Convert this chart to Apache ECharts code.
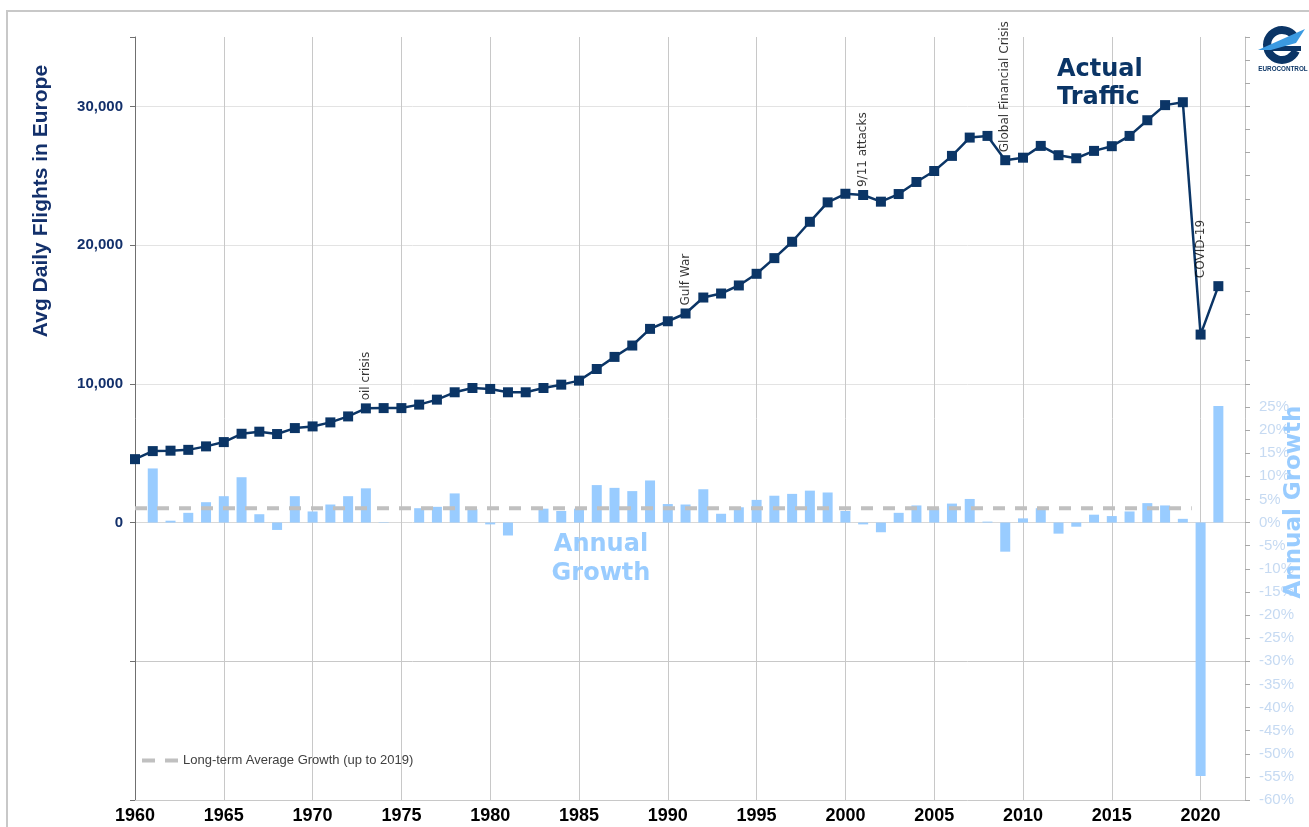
<!DOCTYPE html>
<html>
<head>
<meta charset="utf-8">
<script src="https://cdn.jsdelivr.net/npm/echarts@6/dist/echarts.min.js"></script>
<style>
  html, body { margin: 0; padding: 0; background: #fff; }
  #main { width: 1309px; height: 827px; }
</style>
</head>
<body>
<div id="main"></div>
<script>
// years shown on the x axis
var years = [1960, 1961, 1962, 1963, 1964, 1965, 1966, 1967, 1968, 1969,
  1970, 1971, 1972, 1973, 1974, 1975, 1976, 1977, 1978, 1979,
  1980, 1981, 1982, 1983, 1984, 1985, 1986, 1987, 1988, 1989,
  1990, 1991, 1992, 1993, 1994, 1995, 1996, 1997, 1998, 1999,
  2000, 2001, 2002, 2003, 2004, 2005, 2006, 2007, 2008, 2009,
  2010, 2011, 2012, 2013, 2014, 2015, 2016, 2017, 2018, 2019,
  2020, 2021];

// average daily flights
var traffic = [4570, 5150, 5180, 5240, 5490, 5800, 6400, 6550, 6380, 6810,
  6930, 7220, 7650, 8230, 8250, 8250, 8500, 8860, 9390, 9700,
  9630, 9390, 9390, 9700, 9940, 10230, 11070, 11940, 12760, 13960,
  14510, 15070, 16220, 16510, 17090, 17930, 19060, 20240, 21680, 23080,
  23700, 23610, 23130, 23680, 24550, 25340, 26430, 27750, 27870, 26120,
  26300, 27150, 26480, 26260, 26790, 27130, 27870, 29000, 30090, 30300,
  13550, 17040];

// annual growth in % (no value for the first year)
var growth = [null, 11.7, 0.4, 2.1, 4.4, 5.7, 9.8, 1.8, -1.6, 5.7,
  2.4, 3.9, 5.7, 7.4, 0.1, 0, 3.1, 3.4, 6.3, 2.9,
  -0.4, -2.8, 0, 3.0, 2.5, 3.0, 8.1, 7.5, 6.8, 9.1,
  4.0, 3.9, 7.2, 1.9, 3.3, 4.9, 5.8, 6.2, 6.9, 6.5,
  2.5, -0.4, -2.1, 2.1, 3.7, 3.1, 4.1, 5.1, 0.2, -6.3,
  0.9, 3.1, -2.4, -0.9, 1.7, 1.4, 2.4, 4.2, 3.7, 0.8,
  -54.8, 25.2];

var longTermAvg = 3.1;
var longTermSpan = [1960, 2019.5];
var avgName = 'Long-term Average Growth (up to 2019)';

// [text, year, year whose traffic sets the height]
var events = [
  ['oil crisis', 1973, 1973],
  ['Gulf War', 1991, 1991],
  ['9/11 attacks', 2001, 2001],
  ['Global Financial Crisis', 2009, 2009],
  ['COVID-19', 2020, 2021]
];

var navy = '#0b3566';
var lightBlue = '#99ccff';
var dashGrey = '#c0c0c0';
var sans = 'Liberation Sans, Arial, sans-serif';
var deja = 'DejaVu Sans, sans-serif';

var chart = echarts.init(document.getElementById('main'));

chart.setOption({
  animation: false,
  backgroundColor: '#ffffff',
  grid: { left: 135, right: 64, top: 37, bottom: 27 },
  legend: {
    left: 137,
    top: 749,
    itemWidth: 36,
    itemHeight: 4,
    itemGap: 5,
    data: [{
      name: avgName,
      icon: 'path://M0,0H13V4H0Z M23,0H36V4H23Z',
      itemStyle: { color: dashGrey }
    }],
    textStyle: { fontFamily: sans, fontSize: 13, color: '#404040' }
  },
  xAxis: {
    type: 'value',
    min: 1960,
    max: 2022.5,
    interval: 5,
    axisLine: { onZero: false, lineStyle: { color: '#c8c8c8', width: 1 } },
    axisTick: { show: false },
    axisLabel: {
      margin: 7,
      fontFamily: sans,
      fontSize: 18,
      fontWeight: 'bold',
      color: '#000',
      showMaxLabel: false,
      formatter: function (v) { return v % 5 === 0 ? String(v) : ''; }
    },
    splitLine: { show: true, lineStyle: { color: '#c8c8c8', width: 1 } }
  },
  yAxis: [
    {
      type: 'value',
      min: -20000,
      max: 35000,
      interval: 10000,
      axisLine: { show: true, onZero: false, lineStyle: { color: '#707070', width: 1 } },
      axisTick: { show: true, length: 5, lineStyle: { color: '#707070' } },
      axisLabel: {
        margin: 12,
        fontFamily: sans,
        fontSize: 15,
        fontWeight: 'bold',
        color: '#13306b',
        formatter: function (v) {
          return (v >= 0 && v <= 30000 && v % 10000 === 0) ? v.toLocaleString('en-US') : '';
        }
      },
      splitLine: {
        show: true,
        lineStyle: {
          width: 1,
          color: ['rgba(0,0,0,0)', '#c8c8c8', '#d8d8d8', '#e3e3e3', '#e3e3e3', '#e3e3e3', 'rgba(0,0,0,0)']
        }
      }
    },
    {
      type: 'value',
      position: 'right',
      min: -60,
      max: 105,
      interval: 5,
      axisLine: { show: true, onZero: false, lineStyle: { color: '#c0c0c0', width: 1 } },
      axisTick: { show: true, length: 5, lineStyle: { color: '#a8a8a8' } },
      axisLabel: {
        margin: 14,
        fontFamily: sans,
        fontSize: 15,
        color: '#c6daf2',
        formatter: function (v) { return v <= 25 ? v + '%' : ''; }
      },
      splitLine: { show: false }
    }
  ],
  series: [
    {
      name: 'Annual Growth',
      type: 'bar',
      yAxisIndex: 1,
      barWidth: 10,
      itemStyle: { color: lightBlue },
      data: years.map(function (y, i) { return [y, growth[i]]; }),
      z: 2
    },
    {
      name: avgName,
      type: 'line',
      yAxisIndex: 1,
      symbol: 'none',
      showSymbol: false,
      silent: true,
      lineStyle: { color: dashGrey, width: 4, type: [12, 10] },
      itemStyle: { color: dashGrey },
      data: [[longTermSpan[0], longTermAvg], [longTermSpan[1], longTermAvg]],
      z: 3
    },
    {
      name: 'Actual Traffic',
      type: 'line',
      symbol: 'rect',
      symbolSize: 10,
      lineStyle: { color: navy, width: 2.5 },
      itemStyle: { color: navy },
      data: years.map(function (y, i) { return [y, traffic[i]]; }),
      z: 5
    },
    {
      name: 'events',
      type: 'scatter',
      symbolSize: 10,
      itemStyle: { color: 'rgba(0,0,0,0)' },
      silent: true,
      label: {
        show: true,
        position: 'top',
        distance: 3,
        rotate: 90,
        align: 'left',
        verticalAlign: 'middle',
        fontFamily: deja,
        fontSize: 12,
        color: '#000'
      },
      data: events.map(function (e) {
        return {
          value: [e[1], traffic[years.indexOf(e[2])]],
          label: { formatter: e[0] }
        };
      }),
      z: 6
    }
  ],
  graphic: [
    {
      type: 'rect',
      shape: { x: 7, y: 11, width: 1400, height: 900 },
      style: { fill: 'none', stroke: '#c8c8c8', lineWidth: 2 },
      silent: true
    },
    {
      type: 'text',
      x: 41, y: 201,
      rotation: Math.PI / 2,
      style: {
        text: 'Avg Daily Flights in Europe',
        fontFamily: sans, fontSize: 21, fontWeight: 'bold',
        fill: '#13306b', textAlign: 'center', textVerticalAlign: 'middle'
      }
    },
    {
      type: 'text',
      x: 1294, y: 502,
      rotation: Math.PI / 2,
      style: {
        text: 'Annual Growth',
        fontFamily: deja, fontSize: 23, fontWeight: 'bold',
        fill: lightBlue, textAlign: 'center', textVerticalAlign: 'middle'
      },
      z: 10
    },
    {
      type: 'text',
      x: 1057, y: 56,
      style: {
        text: 'Actual\nTraffic',
        fontFamily: deja, fontSize: 24, fontWeight: 'bold',
        lineHeight: 28,
        fill: navy, textAlign: 'left'
      },
      z: 10
    },
    {
      type: 'text',
      x: 601, y: 530,
      style: {
        text: 'Annual\nGrowth',
        fontFamily: deja, fontSize: 24, fontWeight: 'bold',
        lineHeight: 29,
        fill: lightBlue, textAlign: 'center'
      },
      z: 10
    },
    // EUROCONTROL logo
    {
      type: 'sector',
      shape: { cx: 1282, cy: 45, r0: 11, r: 19, startAngle: 0.4, endAngle: 5.8 },
      style: { fill: navy }
    },
    {
      type: 'rect',
      shape: { x: 1271, y: 46, width: 30, height: 5 },
      style: { fill: navy }
    },
    {
      type: 'polygon',
      shape: { points: [[1258, 50], [1305, 29], [1296, 43], [1271, 50]] },
      style: { fill: '#3b9ae1' },
      z: 11
    },
    {
      type: 'text',
      x: 1283, y: 66,
      style: {
        text: 'EUROCONTROL',
        fontFamily: sans, fontSize: 6.3, fontWeight: 'bold',
        fill: navy, textAlign: 'center'
      }
    }
  ]
});
</script>
</body>
</html>
